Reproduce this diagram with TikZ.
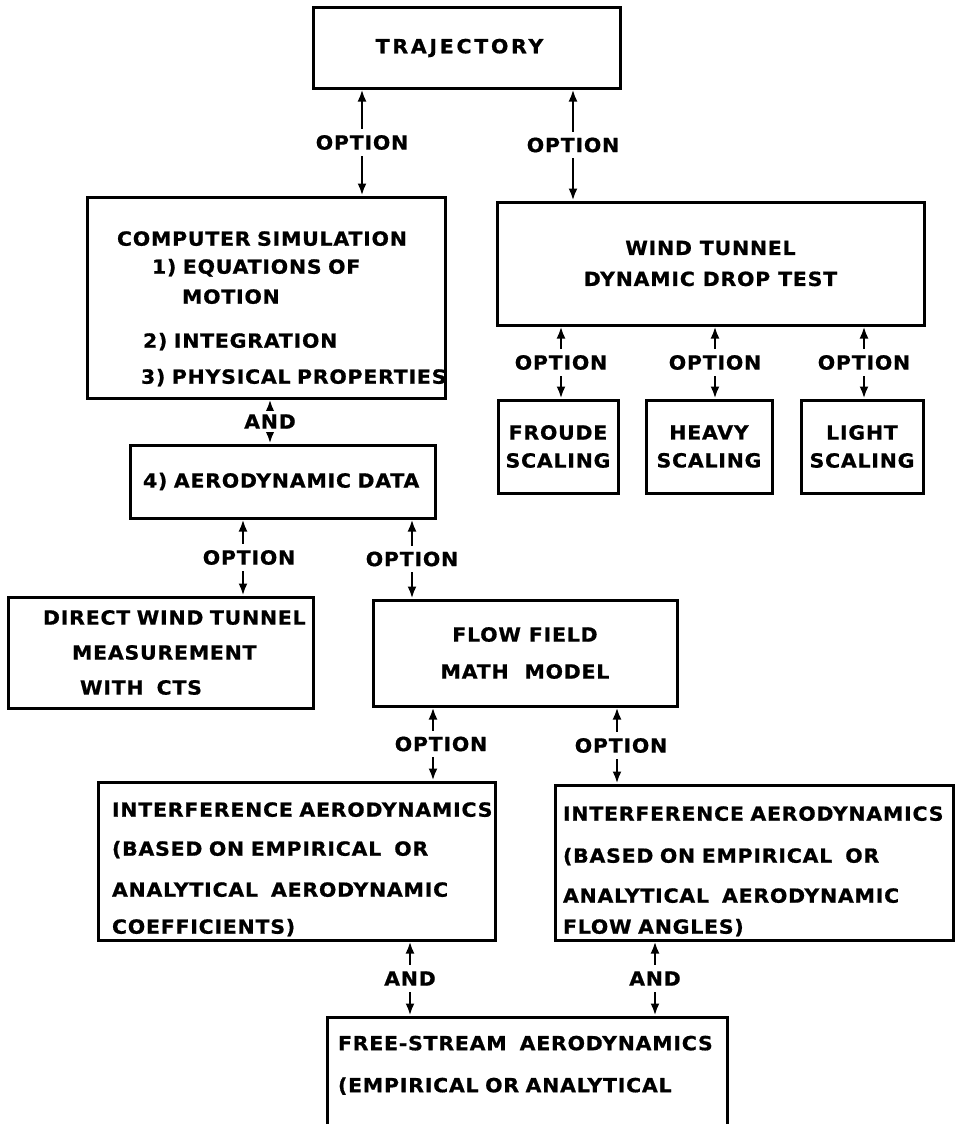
\documentclass[tikz,border=0pt]{standalone}
\usepackage{fontspec}
\usepackage{tikz}
\usetikzlibrary{arrows.meta}
\newfontfamily\lettering{DejaVu Sans}[FakeStretch=1.05,LetterSpace=4,FakeBold=0.8]
\newfontfamily\widelettering{DejaVu Sans}[FakeStretch=1.05,LetterSpace=14,FakeBold=0.8]
\newcommand{\boxfont}{\lettering\bfseries\fontsize{19.5}{21}\selectfont
  \hyphenpenalty=10000\exhyphenpenalty=10000}
\tikzset{
  BoxStyle/.style   = {draw, rectangle, line width=3pt, inner xsep=6pt,
                       inner ysep=2pt, font=\boxfont},
  EdgeStyle/.style  = {{Latex[length=12pt,width=9pt]}-{Latex[length=12pt,width=9pt]},
                       line width=2.4pt},
  LabelStyle/.style = {fill=white, inner xsep=2pt, inner ysep=6pt, font=\boxfont}
}

\begin{document}
\begin{tikzpicture}[x=1pt, y=-1pt]
	\useasboundingbox (0,0) rectangle (956,1124);
	\node[BoxStyle, minimum width=307pt, minimum height=80pt, align=center] (traj) at (466.5,48) {\widelettering\bfseries TRAJECTORY\hspace*{14pt}};
	\node[BoxStyle, text width=298pt, inner xsep=30pt, minimum height=201pt, align=left] (comp) at (266,297.5)
		{\rule{0pt}{37pt}COMPUTER~SIMULATION\\[7pt]
		 \hspace*{35pt}1)~EQUATIONS~OF\\[9pt]
		 \hspace*{65pt}MOTION\\[23pt]
		 \hspace*{26pt}2)~INTEGRATION\\[15pt]
		 \hspace*{24pt}3)~PHYSICAL~PROPERTIES};
	\node[BoxStyle, minimum width=427pt, minimum height=123pt, align=center] (wind) at (710.5,263.5) {WIND~TUNNEL\\[10pt]DYNAMIC~DROP~TEST};
	\node[BoxStyle, minimum width=120pt, minimum height=93pt, align=center] (froude) at (558,446.5) {FROUDE\\[7pt]SCALING};
	\node[BoxStyle, minimum width=126pt, minimum height=93pt, align=center] (heavy) at (709,446.5) {HEAVY\\[7pt]SCALING};
	\node[BoxStyle, minimum width=122pt, minimum height=93pt, align=center] (light) at (862,446.5) {LIGHT\\[7pt]SCALING};
	\node[BoxStyle, text width=279pt, inner xsep=13pt, minimum height=73pt, align=left] (aero) at (282.5,481.5) {4)~AERODYNAMIC~DATA};
	\node[BoxStyle, text width=235pt, inner xsep=35pt, minimum height=111pt, align=left] (direct) at (160.5,652.5)
		{DIRECT~WIND~TUNNEL\\[14pt]
		 \hspace*{29pt}MEASUREMENT\\[14pt]
		 \hspace*{37pt}WITH~~CTS};
	\node[BoxStyle, minimum width=304pt, minimum height=106pt, align=center] (flow) at (525,653) {FLOW~FIELD\\[16pt]MATH~~MODEL};
	\node[BoxStyle, text width=369pt, inner xsep=14pt, minimum height=158pt, align=left] (intl) at (296.5,861)
		{\rule{0pt}{31pt}INTERFERENCE~AERODYNAMICS\\[18pt]
		 (BASED~ON~EMPIRICAL~~OR\\[20pt]
		 ANALYTICAL~~AERODYNAMIC\\[16pt]
		 COEFFICIENTS)};
	\node[BoxStyle, text width=382pt, inner xsep=8pt, minimum height=155pt, align=left] (intr) at (754,862.5)
		{\rule{0pt}{32pt}INTERFERENCE~AERODYNAMICS\\[21pt]
		 (BASED~ON~EMPIRICAL~~OR\\[19pt]
		 ANALYTICAL~~AERODYNAMIC\\[10pt]
		 FLOW~ANGLES)};
	\node[BoxStyle, text width=378pt, inner xsep=11pt, minimum height=136pt, align=left] (free) at (527,1085)
		{FREE-STREAM~~AERODYNAMICS\\[21pt]
		 (EMPIRICAL~OR~ANALYTICAL\\[21pt]
		 \mbox{}};
	\draw[EdgeStyle] ([xshift=-104.5pt]traj.south) -- ([xshift=96pt]comp.north) node[LabelStyle, midway] (opt1) {OPTION};
	\draw[EdgeStyle] ([xshift=106.5pt]traj.south) -- ([xshift=-137.5pt]wind.north) node[LabelStyle, midway] (opt2) {OPTION};
	\draw[EdgeStyle] ([xshift=4pt]comp.south) -- ([xshift=-12.5pt]aero.north) node[LabelStyle, midway, inner ysep=3pt] (and1) {AND};
	\draw[EdgeStyle] ([xshift=-149.5pt]wind.south) -- ([xshift=3pt]froude.north) node[LabelStyle, midway] (opt3) {OPTION};
	\draw[EdgeStyle] ([xshift=4.5pt]wind.south) -- ([xshift=6pt]heavy.north) node[LabelStyle, midway] (opt4) {OPTION};
	\draw[EdgeStyle] ([xshift=153.5pt]wind.south) -- ([xshift=2pt]light.north) node[LabelStyle, midway] (opt5) {OPTION};
	\draw[EdgeStyle] ([xshift=-39.5pt]aero.south) -- ([xshift=82.5pt]direct.north) node[LabelStyle, midway, xshift=6pt] (opt6) {OPTION};
	\draw[EdgeStyle] ([xshift=129.5pt]aero.south) -- ([xshift=-113pt]flow.north) node[LabelStyle, midway] (opt7) {OPTION};
	\draw[EdgeStyle] ([xshift=-92pt]flow.south) -- ([xshift=136.5pt]intl.north) node[LabelStyle, midway, xshift=8pt] (opt8) {OPTION};
	\draw[EdgeStyle] ([xshift=92pt]flow.south) -- ([xshift=-137pt]intr.north) node[LabelStyle, midway, xshift=4pt] (opt9) {OPTION};
	\draw[EdgeStyle] ([xshift=113.5pt]intl.south) -- ([xshift=-117pt]free.north) node[LabelStyle, midway] (and2) {AND};
	\draw[EdgeStyle] ([xshift=-99pt]intr.south) -- ([xshift=128pt]free.north) node[LabelStyle, midway] (and3) {AND};
\end{tikzpicture}
\end{document}
